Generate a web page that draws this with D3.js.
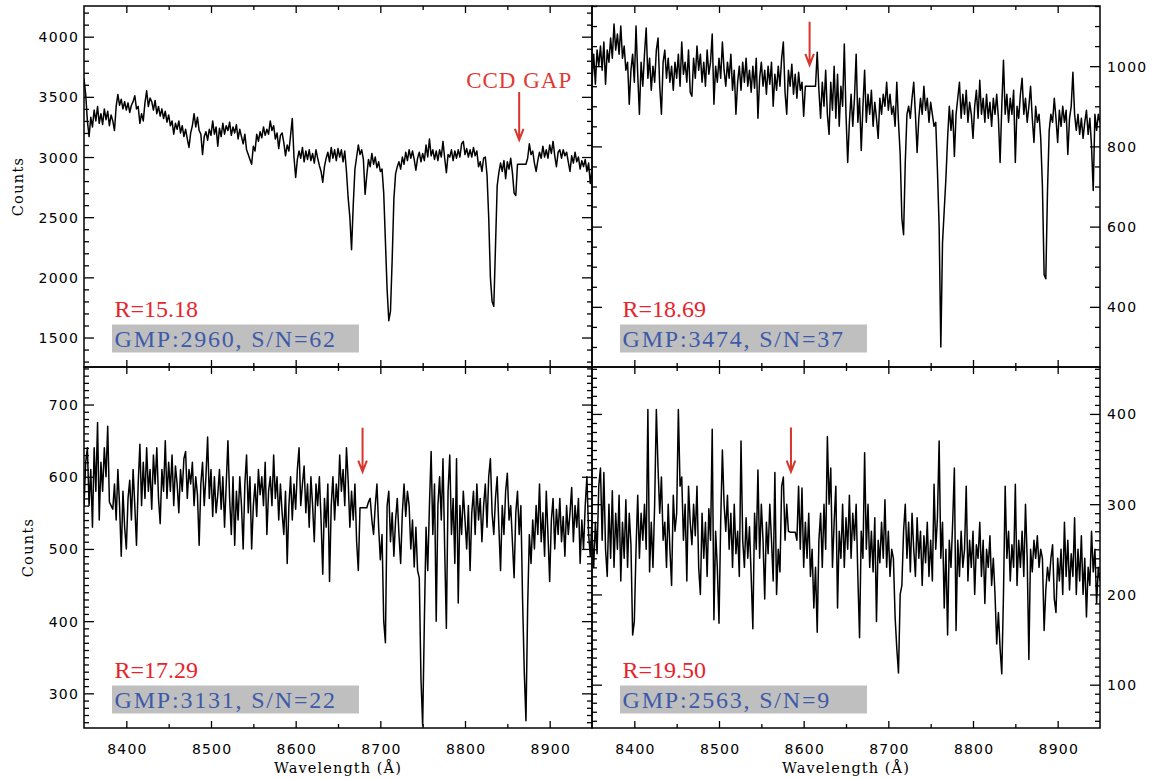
<!DOCTYPE html>
<html><head><meta charset="utf-8">
<script src="https://cdn.jsdelivr.net/npm/d3@7"></script>
<style>
html,body{margin:0;padding:0;background:#fff;}
svg{display:block;background:#fff;}
</style></head>
<body><svg id="chart" width="1153" height="779"></svg>
<script>
// ---------------- DATA ----------------
// wavelength sampling grid (Angstrom)
const wavelengths = d3.range(8350, 8951, 2);

// GMP 2960 (top-left)
const fluxA = [
3650,3520,3300,3170,3330,3250,3390,3300,3420,3280,
3360,3270,3400,3310,3380,3260,3350,3300,3220,3420,
3520,3430,3480,3400,3460,3390,3450,3370,3430,3460,
3510,3400,3420,3280,3360,3300,3450,3550,3420,3490,
3460,3390,3470,3360,3420,3340,3400,3320,3380,3290,
3350,3260,3300,3190,3280,3230,3300,3200,3260,3170,
3230,3150,3080,3200,3260,3360,3250,3330,3220,3190,
3020,3170,3210,3140,3230,3180,3300,3190,3250,3090,
3240,3170,3280,3190,3260,3220,3290,3180,3250,3200,
3270,3150,3230,3170,3110,3190,3060,3020,2980,2940,
3090,3050,3190,3130,3210,3160,3250,3180,3230,3190,
3300,3220,3260,3150,3200,3070,3180,3200,3120,3010,
3100,3050,3180,3320,3000,2830,2980,3050,2990,3080,
2960,3050,2980,3060,2970,3030,2950,3060,2990,2930,
2880,2790,2920,2990,3040,2960,3080,2990,3060,2970,
3070,3000,3060,2960,3050,2880,2660,2500,2230,2600,
2900,3000,3100,3020,3060,2980,2690,2850,2980,2920,
3030,2940,3000,2910,2960,2880,2900,2700,2300,1900,
1640,1720,2150,2650,2860,2920,2960,2900,3000,2940,
3040,2970,3060,2990,3050,2980,2890,2990,3040,2960,
3030,2970,3100,3000,3150,3010,3060,2980,3050,2970,
3060,3000,3130,2990,2870,3020,3000,3060,2970,3050,
2990,3060,3000,3110,3130,3020,3070,3000,3060,3000,
3080,3010,3050,2920,2960,2880,2990,3000,2850,2500,
2000,1800,1760,2250,2760,2870,2950,2880,2970,2820,
2960,2900,2990,2870,2700,2680,2940,2940,2940,2940,
2940,2940,2990,3110,3020,3050,2950,2880,2970,3040,
2990,3090,3000,3060,2990,3100,3030,3130,3010,2920,
3040,3060,2990,3060,3010,3040,2960,2880,3010,2950,
3040,2960,3000,2900,2970,2920,2980,2880,2950,2780,
2900];

// GMP 3474 (top-right)
const fluxB = [
960,1030,955,1040,1000,1050,990,1060,955,1040,
1010,1070,1020,1105,1040,1080,1030,1100,1020,1050,
990,1010,905,990,1030,960,1100,980,880,1010,
950,1030,1095,970,1020,940,1000,960,1040,1070,
950,880,1010,1040,970,1020,960,1000,940,1010,
970,1030,950,1060,980,1010,960,1040,935,925,
1020,970,1050,990,1030,960,1010,950,1040,980,
1010,1080,905,1000,960,1020,970,1060,990,950,
1010,970,1030,940,990,880,960,1000,940,1010,
960,1020,950,990,935,1000,945,1020,870,970,
1010,950,990,930,1000,955,1010,900,980,940,
1000,950,1020,1060,935,880,990,950,1005,930,
980,920,985,940,960,875,950,950,950,950,
950,950,950,1035,940,870,960,900,990,880,
830,960,890,1000,870,980,850,950,900,1055,
880,760,860,930,850,920,1030,860,920,790,
900,990,860,930,880,940,850,910,870,820,
920,880,930,900,960,890,930,880,900,850,
960,860,780,620,580,760,880,900,870,920,
960,880,785,870,920,880,950,890,920,860,
910,880,850,860,740,600,300,560,640,720,
820,900,840,890,775,880,920,960,870,930,
880,940,860,910,880,820,900,940,870,965,
880,920,860,930,870,910,850,920,880,930,
870,760,900,1015,880,930,860,920,880,940,
760,900,870,930,970,880,920,860,900,950,
870,810,900,860,880,820,700,480,470,690,
840,880,860,920,870,810,890,850,900,860,
890,780,870,900,985,880,840,880,830,870,
820,860,890,830,870,800,690,880,840,880,
860];

// GMP 3131 (bottom-left)
const fluxC = [
560,620,640,560,610,530,640,580,675,540,
620,580,640,600,670,565,560,555,590,540,
610,560,490,580,530,500,570,595,540,610,
560,505,590,645,560,620,570,640,580,610,
555,630,590,640,570,535,610,580,650,570,
620,580,630,560,615,590,550,610,580,625,
635,570,610,590,620,560,600,575,505,590,
620,560,600,655,570,610,545,600,550,575,
610,555,600,530,590,650,570,520,600,505,
580,540,600,560,500,590,630,550,600,500,
560,590,545,610,575,600,560,620,520,580,
600,560,630,570,600,540,590,550,520,580,
480,560,600,540,590,555,610,640,560,590,
615,550,590,530,600,560,510,590,560,600,
540,465,570,530,590,455,560,600,540,590,
560,630,580,610,560,640,595,530,580,540,
590,510,470,557,557,557,557,557,565,570,
540,520,560,590,530,485,520,400,370,560,
580,510,550,490,540,570,520,480,550,590,
545,580,560,500,540,475,530,470,460,320,
255,400,530,470,560,635,520,590,400,560,
600,540,625,500,390,580,630,520,570,480,
625,425,560,520,580,540,500,560,470,550,
580,520,590,540,570,510,560,590,530,600,
625,550,520,570,600,530,470,560,520,580,
605,540,560,510,460,550,580,520,560,430,
330,262,420,520,480,540,500,560,520,590,
510,550,490,580,520,455,540,570,500,555,
520,570,510,545,490,560,520,550,585,510,
560,530,570,480,540,500,560,600,520,490,
540];

// GMP 2563 (bottom-right)
const fluxD = [
270,230,280,245,320,340,260,335,250,220,
300,240,315,230,290,250,310,215,280,240,
305,230,290,255,155,170,250,310,240,290,
260,300,250,405,225,280,230,300,405,340,
290,330,260,280,230,300,250,210,310,270,
290,405,320,330,260,300,215,320,280,255,
300,265,320,230,200,290,240,280,220,295,
260,383,172,270,230,168,280,360,300,270,
310,250,290,230,300,245,270,220,370,260,
230,285,240,275,220,162,290,250,338,240,
300,260,195,280,245,300,260,215,335,200,
250,225,320,330,260,300,270,269,269,269,
269,260,320,250,318,230,280,240,290,220,
250,185,230,158,260,290,230,300,250,375,
300,340,230,280,320,185,270,240,300,230,
285,250,310,240,290,260,300,220,152,270,
240,357,250,300,230,270,225,285,170,260,
235,280,240,305,230,270,220,250,240,175,
140,113,200,210,270,300,240,280,225,290,
250,220,285,240,270,210,265,235,280,220,
260,215,322,250,285,370,240,280,185,250,
155,260,230,280,340,160,260,220,270,230,
250,320,215,260,230,270,200,255,240,280,
220,260,190,250,230,265,210,240,200,145,
180,140,112,200,320,240,270,215,255,230,
322,210,260,230,270,220,300,240,128,250,
225,260,240,265,230,250,240,160,205,230,
215,240,255,195,180,240,215,250,200,280,
220,260,205,245,220,285,200,250,215,265,
200,240,175,230,210,270,225,250,190,230,
215];

const xMajorTicks = [8400, 8500, 8600, 8700, 8800, 8900];
const xMinorTicks = [8450, 8550, 8650, 8750, 8850];
const yMajorA = [1500, 2000, 2500, 3000, 3500, 4000];
const yMajorB = [400, 600, 800, 1000];
const yMajorC = [300, 400, 500, 600, 700];
const yMajorD = [100, 200, 300, 400];
const yMinorA = d3.range(1300, 4251, 100).filter(v => v % 500 !== 0);
const yMinorB = d3.range(300, 1151, 50).filter(v => v % 200 !== 0);
const yMinorC = d3.range(260, 751, 10).filter(v => v % 100 !== 0);
const yMinorD = d3.range(60, 451, 10).filter(v => v % 100 !== 0);

const rLabels = ["R=15.18", "R=18.69", "R=17.29", "R=19.50"];
const gmpLabels = ["GMP:2960, S/N=62", "GMP:3474, S/N=37", "GMP:3131, S/N=22", "GMP:2563, S/N=9"];
// CCD gap arrows: wavelength, start and end (in counts)
const gapArrowWl = [8864, 8607, 8679, 8585];
const gapArrowFrom = [3540, 1111, 668, 385];
const gapArrowTo = [3142, 1003, 607, 336];
const gapText = "CCD GAP";

// ---------------- LAYOUT ----------------
const W = 1153, H = 779;
const panelW = 508, panelH = 361;
const panels = [
  {flux: fluxA, left: 84,  top: 6,   yDomain: [1255, 4255], yMajor: yMajorA, yMinor: yMinorA, side: "left",  xLabels: false, countsX: 23.3, showGapText: true},
  {flux: fluxB, left: 592, top: 6,   yDomain: [250, 1150],  yMajor: yMajorB, yMinor: yMinorB, side: "right", xLabels: false},
  {flux: fluxC, left: 84,  top: 367, yDomain: [252, 752],   yMajor: yMajorC, yMinor: yMinorC, side: "left",  xLabels: true, countsX: 33.3},
  {flux: fluxD, left: 592, top: 367, yDomain: [52, 452],    yMajor: yMajorD, yMinor: yMinorD, side: "right", xLabels: true}
];

const tickFont = "'DejaVu Sans', sans-serif";
const labelFont = "'DejaVu Serif', serif";
const annFont = "'Liberation Serif', 'Times New Roman', serif";
const red = "#e8232b", arrowRed = "#d8352d", blue = "#3d5aa9", boxGray = "#bfbfbf";

const svg = d3.select("#chart");
svg.append("rect").attr("width", W).attr("height", H).attr("fill", "#fff");

function styleAxis(g, sw) {
  g.select(".domain").remove();
  g.selectAll("line").attr("stroke", "#000").attr("stroke-width", sw);
}

panels.forEach((p, k) => {
  const x = d3.scaleLinear().domain([8350, 8950]).range([p.left, p.left + panelW]);
  const y = d3.scaleLinear().domain(p.yDomain).range([p.top + panelH, p.top]);
  const bottom = p.top + panelH, right = p.left + panelW;
  const g = svg.append("g");

  const clipId = "clip" + k;
  svg.append("clipPath").attr("id", clipId).append("rect")
    .attr("x", p.left).attr("y", p.top).attr("width", panelW).attr("height", panelH);

  // spectrum
  const data = wavelengths.map((w, i) => [w, p.flux[i]]);
  const line = d3.line().x(d => x(d[0])).y(d => y(d[1]));
  g.append("path").datum(data)
    .attr("clip-path", `url(#${clipId})`)
    .attr("d", line).attr("fill", "none").attr("stroke", "#000")
    .attr("stroke-width", 1.5).attr("stroke-linejoin", "round");

  // ticks (inward on all four sides)
  g.append("g").attr("transform", `translate(0,${bottom})`).call(d3.axisTop(x).tickValues(xMajorTicks).tickSize(7).tickFormat("")).call(a => styleAxis(a, 1.3));
  g.append("g").attr("transform", `translate(0,${p.top})`).call(d3.axisBottom(x).tickValues(xMajorTicks).tickSize(7).tickFormat("")).call(a => styleAxis(a, 1.3));
  g.append("g").attr("transform", `translate(0,${bottom})`).call(d3.axisTop(x).tickValues(xMinorTicks).tickSize(4).tickFormat("")).call(a => styleAxis(a, 1.3));
  g.append("g").attr("transform", `translate(0,${p.top})`).call(d3.axisBottom(x).tickValues(xMinorTicks).tickSize(4).tickFormat("")).call(a => styleAxis(a, 1.3));

  g.append("g").attr("transform", `translate(${p.left},0)`).call(d3.axisRight(y).tickValues(p.yMajor).tickSize(10).tickFormat("")).call(a => styleAxis(a, 1.3));
  g.append("g").attr("transform", `translate(${p.left},0)`).call(d3.axisRight(y).tickValues(p.yMinor).tickSize(5).tickFormat("")).call(a => styleAxis(a, 1.3));
  g.append("g").attr("transform", `translate(${right},0)`).call(d3.axisLeft(y).tickValues(p.yMajor).tickSize(10).tickFormat("")).call(a => styleAxis(a, 1.3));
  g.append("g").attr("transform", `translate(${right},0)`).call(d3.axisLeft(y).tickValues(p.yMinor).tickSize(5).tickFormat("")).call(a => styleAxis(a, 1.3));

  // frame
  g.append("rect").attr("x", p.left).attr("y", p.top).attr("width", panelW).attr("height", panelH)
    .attr("fill", "none").attr("stroke", "#000").attr("stroke-width", 1.5);

  // y tick labels
  if (p.side === "left") {
    g.append("g").attr("transform", `translate(${p.left},0)`)
      .call(d3.axisLeft(y).tickValues(p.yMajor).tickSize(0).tickPadding(5).tickFormat(d3.format("d")))
      .call(a => { a.select(".domain").remove(); a.selectAll("text").attr("dy", "0.36em")
        .attr("font-family", tickFont).attr("font-size", 14).attr("letter-spacing", "1.2px").attr("fill", "#000"); });
    g.append("text")
      .attr("transform", `translate(${p.countsX},${p.top + panelH / 2}) rotate(-90)`)
      .attr("text-anchor", "middle").attr("font-family", labelFont).attr("font-size", 14.5)
      .attr("letter-spacing", "1.3px").attr("fill", "#000").text("Counts");
  } else {
    g.append("g").attr("transform", `translate(${right},0)`)
      .call(d3.axisRight(y).tickValues(p.yMajor).tickSize(0).tickPadding(7).tickFormat(d3.format("d")))
      .call(a => { a.select(".domain").remove(); a.selectAll("text").attr("dy", "0.36em")
        .attr("font-family", tickFont).attr("font-size", 14).attr("letter-spacing", "1.2px").attr("fill", "#000"); });
  }

  // x tick labels
  if (p.xLabels) {
    g.append("g").attr("transform", `translate(0,${bottom})`)
      .call(d3.axisBottom(x).tickValues(xMajorTicks).tickSize(0).tickFormat(d3.format("d")))
      .call(a => { a.select(".domain").remove(); a.selectAll("text").attr("y", 25.5).attr("dy", null)
        .attr("dx", "0.6px").attr("font-family", tickFont).attr("font-size", 14).attr("letter-spacing", "1.2px").attr("fill", "#000"); });
    g.append("text").attr("x", p.left + panelW / 2).attr("y", 773)
      .attr("text-anchor", "middle").attr("font-family", labelFont).attr("font-size", 14.5)
      .attr("letter-spacing", "1.1px").attr("fill", "#000").text("Wavelength (\u00C5)");
  }

  // annotations
  g.append("text").attr("x", p.left + 30.5).attr("y", p.top + 310.5)
    .attr("font-family", annFont).attr("font-size", 24).attr("fill", red).text(rLabels[k]);
  g.append("rect").attr("x", p.left + 28).attr("y", p.top + 318.5).attr("width", 247).attr("height", 28)
    .attr("fill", boxGray);
  g.append("text").attr("x", p.left + 30.5).attr("y", p.top + 340.5)
    .attr("font-family", annFont).attr("font-size", 24).attr("letter-spacing", "1.8px")
    .attr("fill", blue).text(gmpLabels[k]);

  // CCD gap arrow
  const ax0 = x(gapArrowWl[k]), ay0 = y(gapArrowFrom[k]), ay1 = y(gapArrowTo[k]);
  g.append("path")
    .attr("d", `M${ax0},${ay0}L${ax0},${ay1}M${ax0 - 4.3},${ay1 - 11}L${ax0},${ay1}L${ax0 + 4.3},${ay1 - 11}`)
    .attr("fill", "none").attr("stroke", arrowRed).attr("stroke-width", 2);
  if (p.showGapText) {
    g.append("text").attr("x", ax0).attr("y", ay0 - 4)
      .attr("text-anchor", "middle").attr("font-family", annFont).attr("font-size", 23)
      .attr("letter-spacing", "1px").attr("fill", "#e03a34").text(gapText);
  }
});
</script>
</body></html>
